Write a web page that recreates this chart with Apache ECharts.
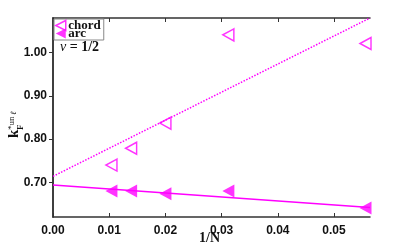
<!DOCTYPE html>
<html><head><meta charset="utf-8">
<script src="https://cdn.jsdelivr.net/npm/echarts@6/dist/echarts.min.js"></script>
<style>html,body{margin:0;padding:0;background:#fff}#c{width:409px;height:245px}</style>
</head><body><div id="c"></div>
<script>
const invN = [0.0104, 0.0139, 0.0200, 0.0312, 0.0556];
const chordVals = [0.740, 0.779, 0.837, 1.041, 1.021];
const arcVals = [0.680, 0.680, 0.674, 0.680, 0.641];
const fitX = [0, 0.0564];
const chordFit = [0.714, 1.080];
const arcFit = [0.694, 0.642];
const xTicks = [0, 0.01, 0.02, 0.03, 0.04, 0.05];
const yTicks = [0.7, 0.8, 0.9, 1.0];
const MAG = '#ff00ff';
const LEFT_TRI = 'path://M10,0 L0,5 L10,10 Z';
const chart = echarts.init(document.getElementById('c'));
const zip = (a, b) => a.map((v, i) => [v, b[i]]);
const axisLine = {show: true, lineStyle: {color: '#333', width: 1.5}};
const labelStyle = {color: '#111', fontWeight: 'bold', fontFamily: 'Liberation Sans', fontSize: 12};
chart.setOption({
  animation: false,
  grid: {left: 53, right: 39, top: 18, bottom: 28},
  xAxis: [{type: 'value', min: 0, max: 0.0564, position: 'bottom',
    axisLine: axisLine, splitLine: {show: false},
    axisTick: {inside: true, length: 4, customValues: xTicks, lineStyle: {color: '#333'}},
    axisLabel: Object.assign({}, labelStyle, {customValues: xTicks, margin: 8, formatter: v => v.toFixed(2)})},
   {type: 'value', min: 0, max: 0.0564, position: 'top',
    axisLine: axisLine, splitLine: {show: false},
    axisTick: {inside: true, length: 4, customValues: xTicks, lineStyle: {color: '#333'}},
    axisLabel: {show: false}}],
  yAxis: [{type: 'value', min: 0.62, max: 1.08, position: 'left',
    axisLine: axisLine, splitLine: {show: false},
    axisTick: {inside: false, length: 4, customValues: yTicks, lineStyle: {color: '#333'}},
    axisLabel: Object.assign({}, labelStyle, {customValues: yTicks, margin: 6, formatter: v => v.toFixed(2)})},
   {type: 'value', min: 0.62, max: 1.08, position: 'right',
    axisLine: axisLine, splitLine: {show: false},
    axisTick: {inside: true, length: 4, customValues: yTicks, lineStyle: {color: '#333'}},
    axisLabel: {show: false}}],
  legend: {
    orient: 'vertical', left: 54, top: 19, itemGap: -5, padding: [0, 3, 0, 1],
    borderColor: '#888', borderWidth: 1, itemWidth: 11, itemHeight: 10,
    textStyle: {fontFamily: 'Liberation Serif', fontWeight: 'bold', fontSize: 13, color: '#111', padding: [0, 0, 0, -3]},
    data: [
      {name: 'chord', icon: LEFT_TRI, itemStyle: {color: '#fff', borderColor: MAG, borderWidth: 1.5}},
      {name: 'arc', icon: LEFT_TRI, itemStyle: {color: MAG}}
    ]
  },
  series: [
    {name: 'chordfit', type: 'line', data: zip(fitX, chordFit), symbol: 'none',
     lineStyle: {color: MAG, width: 1.5, type: 'dotted'}, silent: true},
    {name: 'arcfit', type: 'line', data: zip(fitX, arcFit), symbol: 'none',
     lineStyle: {color: MAG, width: 1.5}, silent: true},
    {name: 'chord', type: 'scatter', data: zip(invN, chordVals), symbol: LEFT_TRI,
     symbolSize: [11, 12], itemStyle: {color: '#fff', borderColor: MAG, borderWidth: 1.5}},
    {name: 'arc', type: 'scatter', data: zip(invN, arcVals), symbol: LEFT_TRI,
     symbolSize: [12, 13], itemStyle: {color: MAG}}
  ],
  graphic: [
    {type: 'text', left: 60, top: 40, style: {text: '{i|ν} = 1/2', fontFamily: 'Liberation Serif', fontWeight: 'bold', fontSize: 14, fill: '#111',
      rich: {i: {fontFamily: 'Liberation Serif', fontStyle: 'italic', fontSize: 14, fill: '#111'}}}},
    {type: 'text', left: 199, top: 231, style: {text: '1/N', fontFamily: 'Liberation Serif', fontWeight: 'bold', fontSize: 14, fill: '#111'}},
    {type: 'group', x: 22, y: 138, rotation: Math.PI / 2, children: [
      {type: 'text', x: 0, y: 0, style: {text: 'k', fontFamily: 'Liberation Serif', fontWeight: 'bold', fontSize: 15, fill: '#111', textVerticalAlign: 'bottom'}},
      {type: 'text', x: 8, y: 3, style: {text: 'F', fontFamily: 'Liberation Serif', fontWeight: 'bold', fontSize: 9, fill: '#111', textVerticalAlign: 'bottom'}},
      {type: 'text', x: 8, y: -6, style: {text: '*un', fontFamily: 'Liberation Serif', fontSize: 9, fill: '#111', textVerticalAlign: 'bottom'}},
      {type: 'text', x: 23, y: -4, style: {text: 'ℓ', fontFamily: 'Liberation Serif', fontStyle: 'italic', fontSize: 8, fill: '#111', textVerticalAlign: 'bottom'}}
    ]}
  ]
});
</script></body></html>
